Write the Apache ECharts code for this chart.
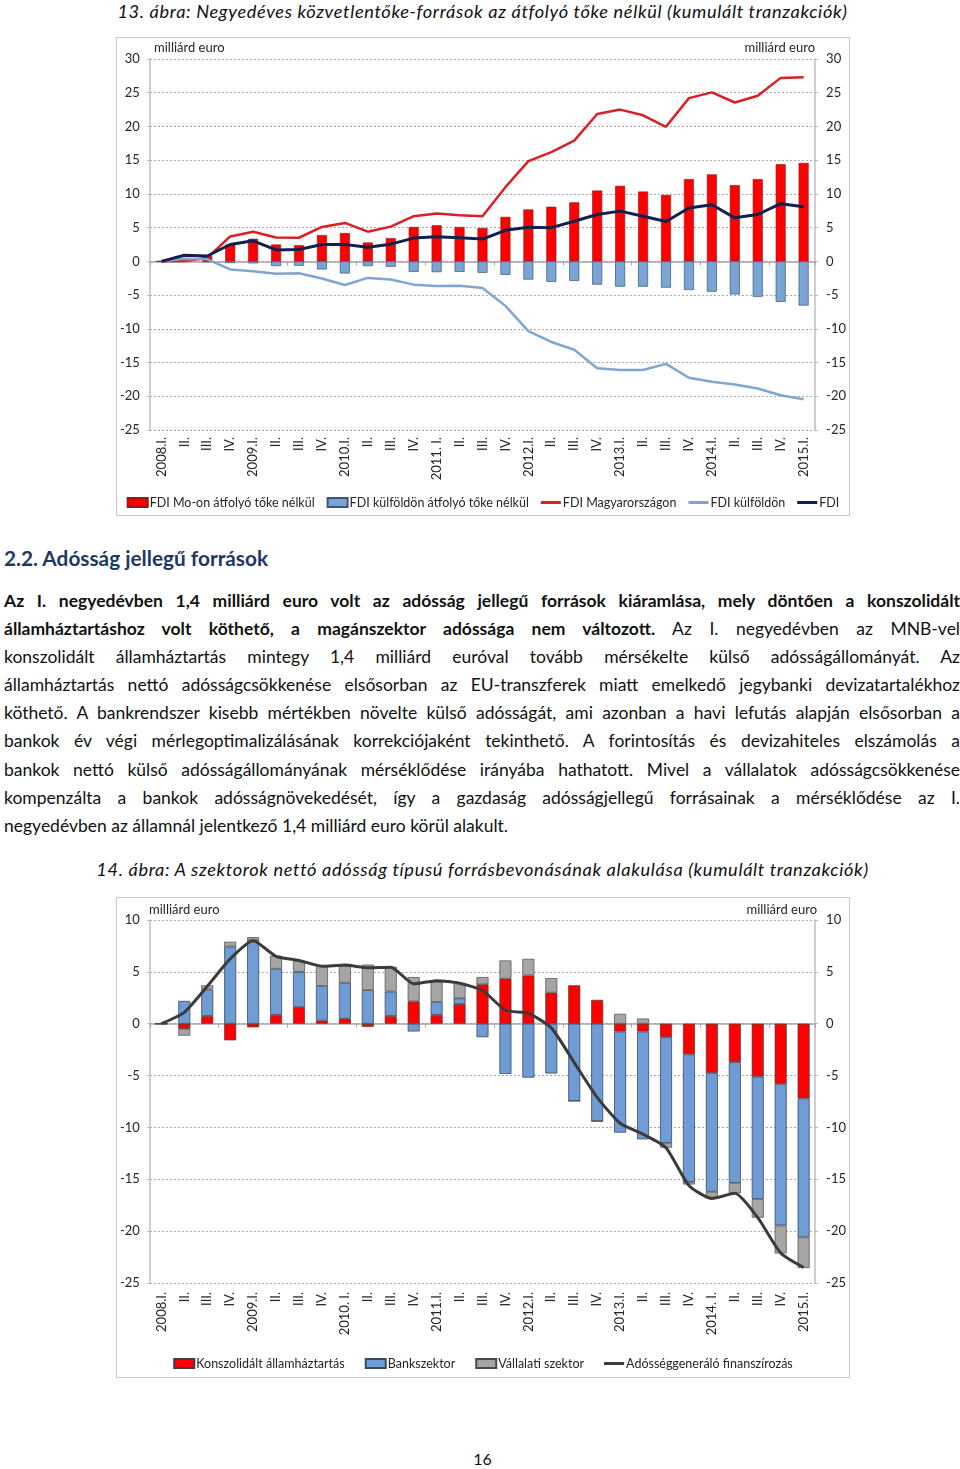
<!DOCTYPE html>
<html>
<head>
<meta charset="utf-8">
<script src="https://cdn.jsdelivr.net/npm/echarts@6/dist/echarts.min.js"></script>
<style>
  html, body { margin:0; padding:0; background:#fff; }
  body { width:960px; height:1469px; position:relative; font-family: Lato, "Open Sans", sans-serif; color:#111; }
  .title { position:absolute; left:0; width:965px; text-align:center; font-style:italic; font-size:18.2px; letter-spacing:0.65px; line-height:22px; color:#111; white-space:nowrap; }
  .box { position:absolute; left:116px; width:734px; border:1px solid #C8C8C8; box-sizing:border-box; }
  h2 { position:absolute; left:4px; top:545px; margin:0; font-size:20.8px; line-height:26px; font-weight:bold; color:#1F3763; }
  .para { position:absolute; left:4px; top:587px; width:956px; font-size:17.5px; line-height:28.1px; }
  .para div { text-align:justify; text-align-last:justify; white-space:nowrap; }
  .para div.last { text-align-last:left; }
  .pg { position:absolute; left:0; width:965px; top:1448px; text-align:center; font-size:16px; line-height:22px; }
</style>
</head>
<body>
<div class="title" style="top:0px;">13. ábra: Negyedéves közvetlentőke-források az átfolyó tőke nélkül (kumulált tranzakciók)</div>
<div id="c1" class="box" style="top:37px;height:479px;"></div>
<h2>2.2. Adósság jellegű források</h2>
<div class="para">
<div><b>Az I. negyedévben 1,4 milliárd euro volt az adósság jellegű források kiáramlása, mely döntően a konszolidált</b></div>
<div><b>államháztartáshoz volt köthető, a magánszektor adóssága nem változott.</b> Az I. negyedévben az MNB-vel</div>
<div>konszolidált államháztartás mintegy 1,4 milliárd euróval tovább mérsékelte külső adósságállományát. Az</div>
<div>államháztartás nettó adósságcsökkenése elsősorban az EU-transzferek miatt emelkedő jegybanki devizatartalékhoz</div>
<div>köthető. A bankrendszer kisebb mértékben növelte külső adósságát, ami azonban a havi lefutás alapján elsősorban a</div>
<div>bankok év végi mérlegoptimalizálásának korrekciójaként tekinthető. A forintosítás és devizahiteles elszámolás a</div>
<div>bankok nettó külső adósságállományának mérséklődése irányába hathatott. Mivel a vállalatok adósságcsökkenése</div>
<div>kompenzálta a bankok adósságnövekedését, így a gazdaság adósságjellegű forrásainak a mérséklődése az I.</div>
<div class="last">negyedévben az államnál jelentkező 1,4 milliárd euro körül alakult.</div>
</div>
<div class="title" style="top:858px;">14. ábra: A szektorok nettó adósság típusú forrásbevonásának alakulása (kumulált tranzakciók)</div>
<div id="c2" class="box" style="top:897px;height:481px;"></div>
<div class="pg">16</div>

<script>
// ---------- Chart 1 data ----------
var cats1 = ['2008.I.','II.','III.','IV.','2009.I.','II.','III.','IV.','2010.I.','II.','III.','IV.','2011. I.','II.','III.','IV.','2012.I.','II.','III.','IV.','2013.I.','II.','III.','IV.','2014.I.','II.','III.','IV.','2015.I.'];
var fdiMoBar = [0, 0.2, 0.8, 2.5, 3.35, 2.5, 2.4, 3.9, 4.2, 2.8, 3.45, 5.1, 5.35, 5.1, 4.95, 6.6, 7.7, 8.1, 8.75, 10.5, 11.2, 10.35, 9.85, 12.2, 12.9, 11.3, 12.2, 14.4, 14.6];
var fdiKulfBar = [0, 0, -0.1, -0.25, -0.3, -0.7, -0.65, -1.2, -1.8, -0.7, -0.8, -1.55, -1.6, -1.55, -1.7, -2.0, -2.7, -3.05, -2.9, -3.45, -3.75, -3.75, -3.9, -4.25, -4.5, -4.9, -5.25, -6.0, -6.55];
var fdiMoLine = [0, 0.05, 0.5, 3.7, 4.4, 3.55, 3.5, 5.1, 5.7, 4.4, 5.15, 6.7, 7.1, 6.85, 6.7, 11.0, 14.85, 16.2, 17.9, 21.85, 22.5, 21.65, 19.95, 24.2, 25.05, 23.55, 24.55, 27.2, 27.3];
var fdiKulfLine = [0, 0.4, 0.3, -1.2, -1.45, -1.85, -1.75, -2.55, -3.5, -2.45, -2.7, -3.45, -3.65, -3.6, -3.95, -6.6, -10.35, -11.95, -13.1, -15.85, -16.1, -16.1, -15.2, -17.25, -17.85, -18.25, -18.85, -19.85, -20.45];
var fdiNet = [0, 0.9, 0.8, 2.5, 3.05, 1.7, 1.75, 2.5, 2.5, 2.1, 2.55, 3.45, 3.65, 3.5, 3.3, 4.6, 5.05, 5.0, 5.95, 6.95, 7.45, 6.7, 5.9, 7.9, 8.4, 6.45, 6.95, 8.55, 8.1];

// ---------- Chart 2 data ----------
var cats2 = ['2008.I.','II.','III.','IV.','2009.I.','II.','III.','IV.','2010. I.','II.','III.','IV.','2011.I.','II.','III.','IV.','2012.I.','II.','III.','IV.','2013.I.','II.','III.','IV.','2014. I.','II.','III.','IV.','2015.I.'];
var govt = [0, -0.5, 0.75, -1.6, -0.35, 0.85, 1.6, 0.3, 0.5, -0.3, 0.75, 2.15, 0.85, 1.9, 3.8, 4.35, 4.65, 3.0, 3.7, 2.3, -0.75, -0.75, -1.3, -2.95, -4.75, -3.7, -5.1, -5.8, -7.2];
var banks = [0, 2.2, 2.55, 7.45, 8.1, 4.45, 3.4, 3.35, 3.45, 3.25, 2.35, -0.75, 1.25, 0.55, -1.3, -4.85, -5.2, -4.8, -7.45, -9.4, -9.75, -10.4, -10.2, -12.3, -11.45, -11.65, -11.8, -13.65, -13.4];
var corp = [0, -0.65, 0.4, 0.45, 0.25, 1.25, 1.05, 1.9, 1.6, 2.45, 2.4, 2.35, 1.95, 1.45, 0.7, 1.75, 1.6, 1.4, 0, 0, 0.95, 0.5, -0.45, -0.25, -0.6, -1.0, -1.8, -2.7, -2.95];
var debtFin = [0, 1.1, 3.6, 6.25, 8.0, 6.5, 6.1, 5.55, 5.65, 5.4, 5.45, 3.85, 4.15, 3.9, 3.2, 1.3, 1.0, -0.4, -3.75, -7.1, -9.6, -10.65, -11.95, -15.6, -16.85, -16.35, -18.7, -22.1, -23.5];

var FONT = 'Lato, "Open Sans", sans-serif';
var TXT = '#262626';
var GRIDC = '#A6A6A6';
var LINE_ICON = 'path://M0,0 L20,0 L20,3 L0,3 Z';

function yAxes(min, max) {
  var base = {
    type: 'value', min: min, max: max, interval: 5,
    axisLine: { show: true, lineStyle: { color: '#BFBFBF', width: 1.5 } },
    axisTick: { show: true, length: 3, lineStyle: { color: '#BFBFBF' } },
    axisLabel: { fontSize: 13, color: TXT, fontFamily: FONT }
  };
  var l = echarts.util.merge({ position: 'left', axisLabel: { margin: 10 },
    splitLine: { show: true, lineStyle: { type: [2, 2], color: GRIDC, width: 1 } } }, base, true);
  var r = echarts.util.merge({ position: 'right', axisLabel: { margin: 11 }, splitLine: { show: false } }, base, true);
  return [l, r];
}
function xAxes(cats, margin) {
  return [
    { type: 'category', data: cats, position: 'bottom',
      axisLine: { onZero: true, lineStyle: { color: '#A6A6A6', width: 1.5 } },
      axisTick: { show: true, length: 4, lineStyle: { color: '#A6A6A6' } },
      axisLabel: { show: false }, splitLine: { show: false } },
    { type: 'category', data: cats, position: 'bottom',
      axisLine: { show: false, onZero: false }, axisTick: { show: false },
      axisLabel: { rotate: 90, margin: margin, interval: 0, fontSize: 13, color: TXT, fontFamily: FONT },
      splitLine: { show: false } }
  ];
}

var c1 = echarts.init(document.getElementById('c1'));
c1.setOption({
  animation: false,
  textStyle: { fontFamily: FONT },
  grid: { left: 31, right: 32, top: 21, bottom: 85 },
  graphic: [
    { type: 'text', left: 37, top: 3, style: { text: 'milliárd euro', font: '13px ' + FONT, fill: TXT } },
    { type: 'text', right: 34, top: 3, style: { text: 'milliárd euro', font: '13px ' + FONT, fill: TXT } }
  ],
  legend: {
    left: 'center', top: 453, itemWidth: 20, itemHeight: 9, itemGap: 12,
    textStyle: { fontSize: 12.5, color: TXT, fontFamily: FONT, padding: [0, 0, 0, -3] },
    data: [
      { name: 'FDI Mo-on átfolyó tőke nélkül', icon: 'rect' },
      { name: 'FDI külföldön átfolyó tőke nélkül', icon: 'rect' },
      { name: 'FDI Magyarországon', icon: LINE_ICON },
      { name: 'FDI külföldön', icon: LINE_ICON },
      { name: 'FDI', icon: LINE_ICON }
    ]
  },
  xAxis: xAxes(cats1, 7),
  yAxis: yAxes(-25, 30),
  series: [
    { name: 'FDI Mo-on átfolyó tőke nélkül', type: 'bar', stack: 's', data: fdiMoBar, barWidth: 10,
      itemStyle: { color: '#FF0000', borderColor: '#8B1A1A', borderWidth: 0.6 } },
    { name: 'FDI külföldön átfolyó tőke nélkül', type: 'bar', stack: 's', data: fdiKulfBar, barWidth: 10,
      itemStyle: { color: '#7BA4D6', borderColor: '#3E5573', borderWidth: 0.7 } },
    { name: 'FDI Magyarországon', type: 'line', data: fdiMoLine, symbol: 'none',
      lineStyle: { color: '#DB1F26', width: 2.5 }, itemStyle: { color: '#DB1F26' } },
    { name: 'FDI külföldön', type: 'line', data: fdiKulfLine, symbol: 'none',
      lineStyle: { color: '#7FA6CF', width: 2.5 }, itemStyle: { color: '#7FA6CF' } },
    { name: 'FDI', type: 'line', data: fdiNet, symbol: 'none',
      lineStyle: { color: '#10214F', width: 3 }, itemStyle: { color: '#10214F' } }
  ]
});

var c2 = echarts.init(document.getElementById('c2'));
c2.setOption({
  animation: false,
  textStyle: { fontFamily: FONT },
  grid: { left: 31, right: 32, top: 22, bottom: 94 },
  graphic: [
    { type: 'text', left: 32, top: 5, style: { text: 'milliárd euro', font: '13px ' + FONT, fill: TXT } },
    { type: 'text', right: 32, top: 5, style: { text: 'milliárd euro', font: '13px ' + FONT, fill: TXT } }
  ],
  legend: {
    left: 'center', top: 454, itemWidth: 20, itemHeight: 9, itemGap: 20,
    textStyle: { fontSize: 12.5, color: TXT, fontFamily: FONT, padding: [0, 0, 0, -3] },
    data: [
      { name: 'Konszolidált államháztartás', icon: 'rect' },
      { name: 'Bankszektor', icon: 'rect' },
      { name: 'Vállalati szektor', icon: 'rect' },
      { name: 'Adósséggeneráló finanszírozás', icon: LINE_ICON }
    ]
  },
  xAxis: xAxes(cats2, 9),
  yAxis: yAxes(-25, 10),
  series: [
    { name: 'Konszolidált államháztartás', type: 'bar', stack: 's', data: govt, barWidth: 12,
      itemStyle: { color: '#FF0000', borderColor: '#3F3F3F', borderWidth: 0.7 } },
    { name: 'Bankszektor', type: 'bar', stack: 's', data: banks, barWidth: 12,
      itemStyle: { color: '#6F9CD4', borderColor: '#3A4A60', borderWidth: 0.8 } },
    { name: 'Vállalati szektor', type: 'bar', stack: 's', data: corp, barWidth: 12,
      itemStyle: { color: '#A5A5A5', borderColor: '#4A4A4A', borderWidth: 0.7 } },
    { name: 'Adósséggeneráló finanszírozás', type: 'line', data: debtFin, symbol: 'none', smooth: 0.2,
      lineStyle: { color: '#3B3B3B', width: 3 }, itemStyle: { color: '#3B3B3B' } }
  ]
});
</script>
</body>
</html>
